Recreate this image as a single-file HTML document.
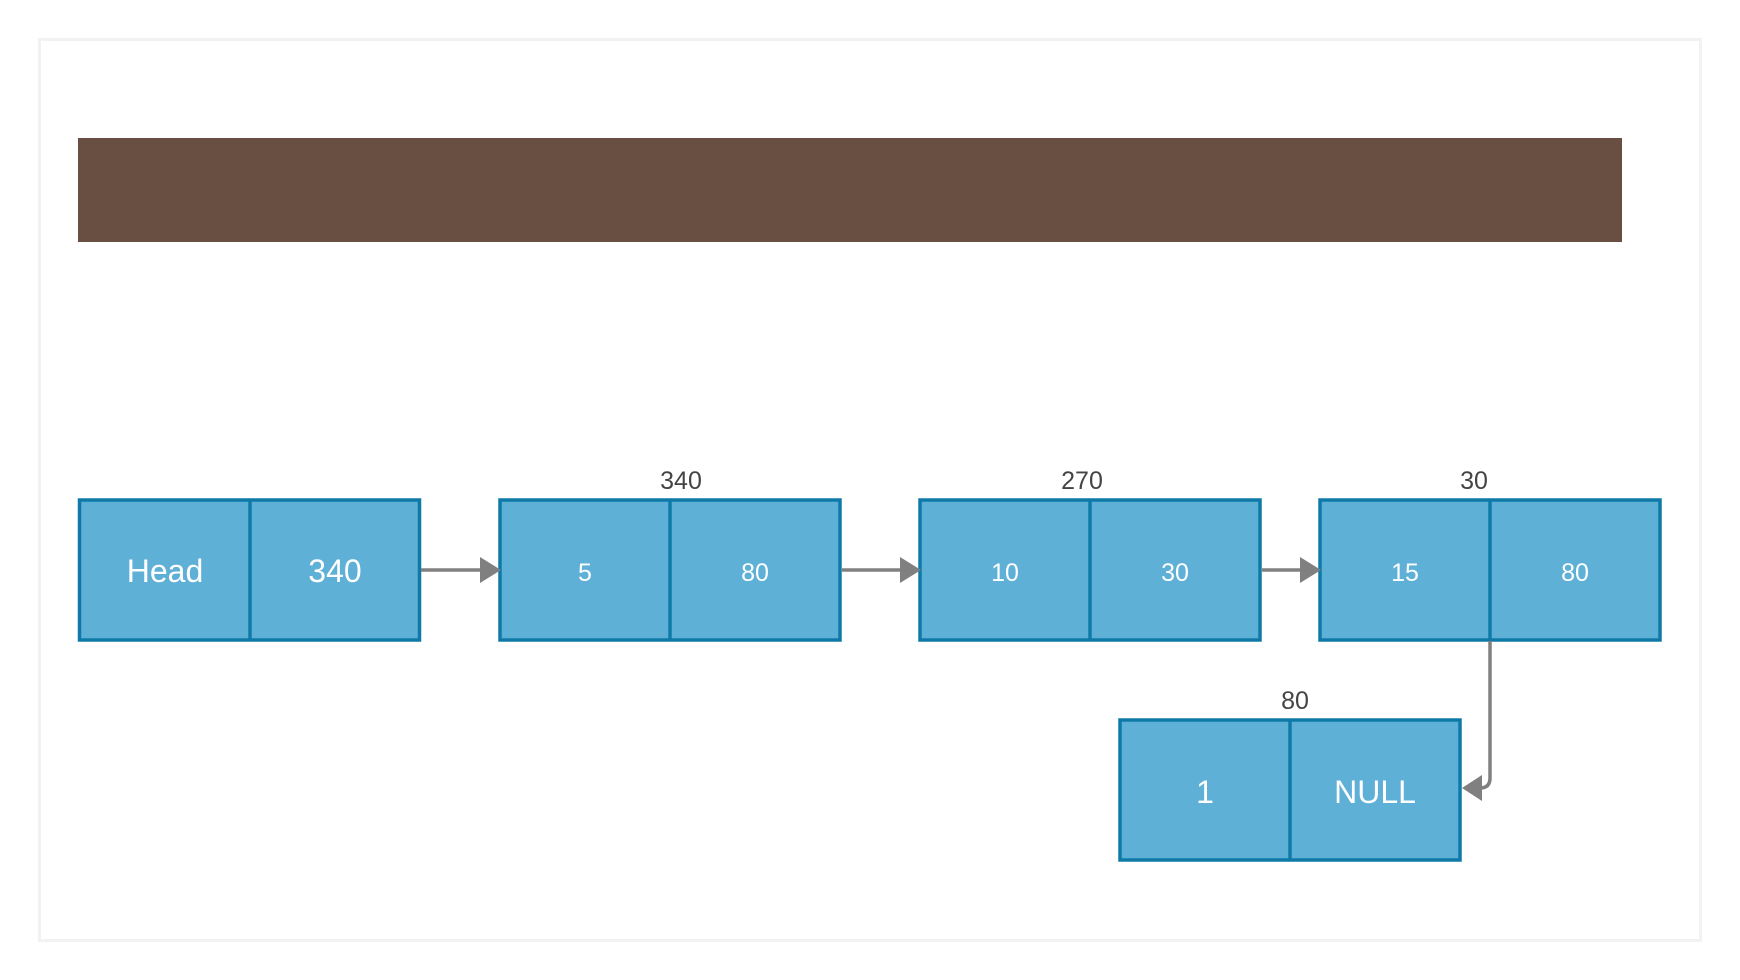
<!DOCTYPE html>
<html><head><meta charset="utf-8"><style>
body{margin:0;width:1740px;height:980px;background:#fff;overflow:hidden}
svg{display:block}
text{font-family:"Liberation Sans","DejaVu Sans",sans-serif}
</style></head><body>
<svg width="1740" height="980" viewBox="0 0 1740 980">
<rect x="39.5" y="39.5" width="1661" height="901" fill="#fff" stroke="#f2f2f2" stroke-width="3"/>
<rect x="78" y="138" width="1544" height="104" fill="#694e42"/>
<g fill="#5fb0d6" stroke="#0f7aa8" stroke-width="3.5">
<rect x="79.5" y="500" width="340" height="140"/><line x1="250" y1="500" x2="250" y2="640"/>
<rect x="500" y="500" width="340" height="140"/><line x1="670" y1="500" x2="670" y2="640"/>
<rect x="920" y="500" width="340" height="140"/><line x1="1090" y1="500" x2="1090" y2="640"/>
<rect x="1320" y="500" width="340" height="140"/><line x1="1490" y1="500" x2="1490" y2="640"/>
<rect x="1120" y="720" width="340" height="140"/><line x1="1290" y1="720" x2="1290" y2="860"/>
</g>
<g stroke="#808080" stroke-width="3.5" fill="none">
<line x1="421" y1="570" x2="480" y2="570"/><path d="M480,557 L501,570 L480,583Z" fill="#808080" stroke="none"/>
<line x1="842" y1="570" x2="900" y2="570"/><path d="M900,557 L921,570 L900,583Z" fill="#808080" stroke="none"/>
<line x1="1262" y1="570" x2="1300" y2="570"/><path d="M1300,557 L1321,570 L1300,583Z" fill="#808080" stroke="none"/>
<path d="M1490,641 L1490,778 Q1490,788 1480,788 L1482,788"/><path d="M1482,775 L1462,788 L1482,801Z" fill="#808080" stroke="none"/>
</g>
<g fill="#fff" text-anchor="middle">
<text x="165" y="582" font-size="32">Head</text>
<text x="335" y="582" font-size="32">340</text>
<text x="585" y="581" font-size="25">5</text>
<text x="755" y="581" font-size="25">80</text>
<text x="1005" y="581" font-size="25">10</text>
<text x="1175" y="581" font-size="25">30</text>
<text x="1405" y="581" font-size="25">15</text>
<text x="1575" y="581" font-size="25">80</text>
<text x="1205" y="803" font-size="32">1</text>
<text x="1375" y="803" font-size="32">NULL</text>
</g>
<g fill="#444" text-anchor="middle" font-size="25">
<text x="681" y="489">340</text>
<text x="1082" y="489">270</text>
<text x="1474" y="489">30</text>
<text x="1295" y="709">80</text>
</g>
</svg>
</body></html>
